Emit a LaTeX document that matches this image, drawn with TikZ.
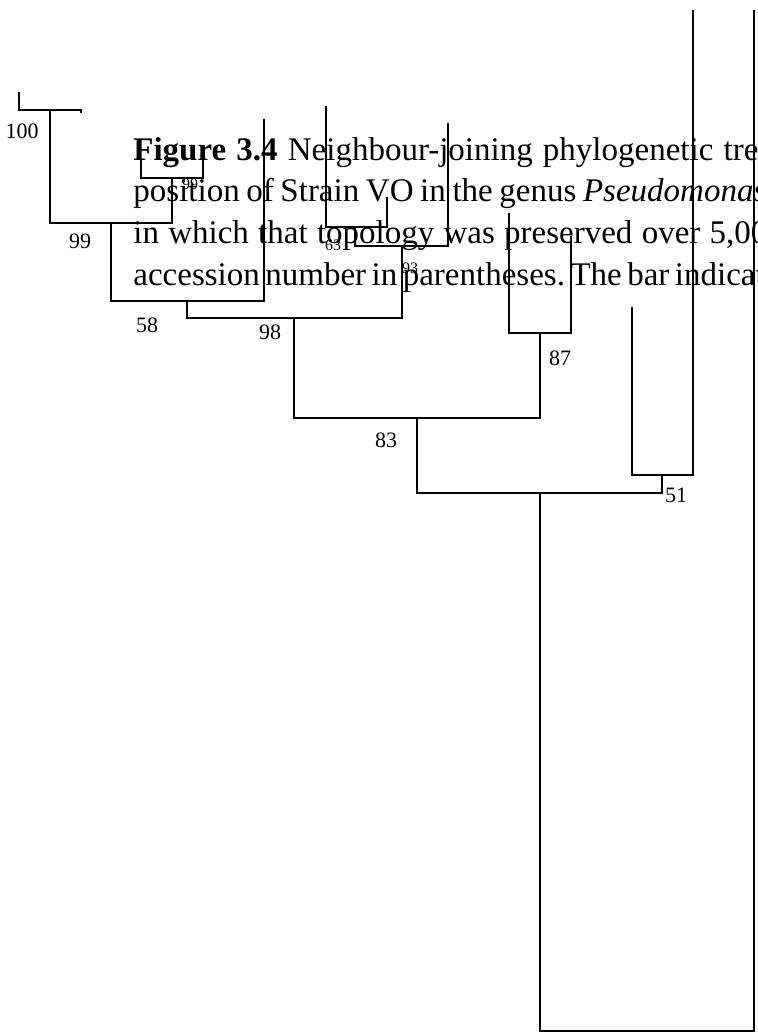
\documentclass[tikz,border=0pt]{standalone}
\usepackage{fontspec}
\setmainfont{Liberation Serif}
\usetikzlibrary{positioning}
\frenchspacing

\begin{document}
\begin{tikzpicture}[x=0.5pt, y=-0.5pt,
  branch/.style={line width=1pt},
  boot/.style={font=\fontsize{11}{11}\selectfont, inner sep=0},
  bootsmall/.style={font=\fontsize{8}{8}\selectfont, inner sep=0},
  captext/.style={anchor=base west, inner sep=0, font=\fontsize{16.5}{20}\selectfont}
]
  \useasboundingbox (0,0) rectangle (758,1034);
  \clip (0,0) rectangle (758,1034);

  % Caption text lying over the tree
  \node[captext] (cap1) at (133,160) {\makebox[312.5pt][s]{\textbf{Figure 3.4} Neighbour-joining phylogenetic tre}};
  \node[captext] (cap2) at (133,201) {\makebox[316.5pt][s]{position of Strain VO in the genus \textit{Pseudomonas}}};
  \node[captext] (cap3) at (133,243) {\makebox[317pt][s]{in which that topology was preserved over 5,00}};
  \node[captext] (cap4) at (133,285) {\makebox[313.5pt][s]{accession number in parentheses. The bar indicat}};

  % Tips
  \coordinate (t1) at (19,92);
  \coordinate (t2) at (81,113);
  \coordinate (t3) at (141,158);
  \coordinate (t4) at (203,158);
  \coordinate (t5) at (264,119);
  \coordinate (t6) at (448,123);
  \coordinate (t7) at (326,106);
  \coordinate (t8) at (387,197);
  \coordinate (t9) at (509,213);
  \coordinate (t10) at (571,236);
  \coordinate (t11) at (632,307);
  \coordinate (t12) at (693,10);
  \coordinate (t13) at (754,10);

  % Internal nodes
  \coordinate (n100) at (50,110);
  \coordinate (n99s) at (172,178);
  \coordinate (n99) at (111,223);
  \coordinate (n58) at (187,301);
  \coordinate (n63) at (355,227);
  \coordinate (n93) at (402,246);
  \coordinate (n98) at (294,318);
  \coordinate (n87) at (540,333);
  \coordinate (n83) at (417,418);
  \coordinate (n51) at (662,475);
  \coordinate (njoin) at (540,493);
  \coordinate (nbot) at (647,1031);

  % Branches
  \draw[branch] (t1) |- (n100) -| (t2);
  \draw[branch] (t3) |- (n99s) -| (t4);
  \draw[branch] (n100) |- (n99) -| (n99s);
  \draw[branch] (n99) |- (n58) -| (t5);
  \draw[branch] (t7) |- (n63) -| (t8);
  \draw[branch] (n63) |- (n93) -| (t6);
  \draw[branch] (n58) |- (n98) -| (n93);
  \draw[branch] (t9) |- (n87) -| (t10);
  \draw[branch] (n98) |- (n83) -| (n87);
  \draw[branch] (t11) |- (n51) -| (t12);
  \draw[branch] (n83) |- (njoin) -| (n51);
  \draw[branch] (njoin) |- (nbot) -| (t13);

  % Bootstrap values
  \node[boot] (b100) at (22,131) {100};
  \node[boot] (b99) at (80,241) {99};
  \node[boot] (b58) at (147,325) {58};
  \node[boot] (b98) at (270,332) {98};
  \node[boot] (b87) at (560,358) {87};
  \node[boot] (b83) at (386,440) {83};
  \node[boot] (b51) at (676,495) {51};
  \node[bootsmall] (b99s) at (190,184) {99};
  \node[bootsmall] (b63) at (333,245) {63};
  \node[bootsmall] (b93) at (410,268) {93};
\end{tikzpicture}
\end{document}
